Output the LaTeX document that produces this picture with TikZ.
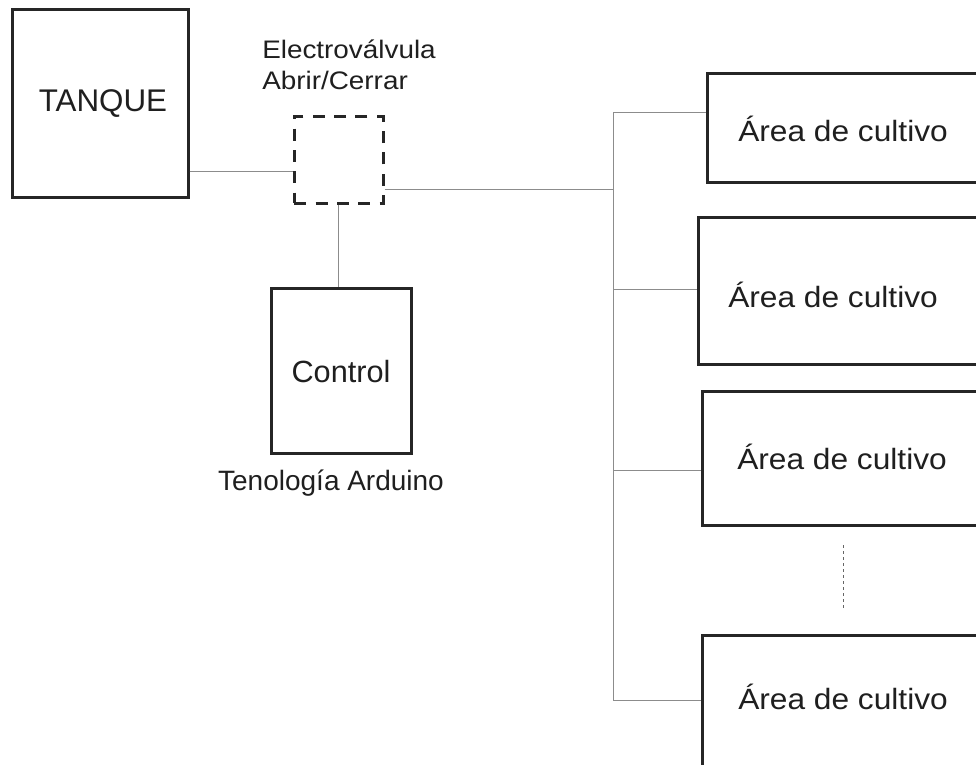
\documentclass[tikz,border=0pt]{standalone}
\usepackage{fontspec}
\setmainfont{Liberation Sans}
\begin{document}
\begin{tikzpicture}[x=0.75pt,y=-0.75pt,
  box/.style={draw=black!85,line width=2pt,anchor=north west,inner sep=0pt},
  conn/.style={draw=black!45,line width=0.7pt},
  lbl/.style={inner sep=0pt,text=black!88}]
\useasboundingbox (0,0) rectangle (976,765);
\clip (0,0) rectangle (976,765);
\fill[white] (0,0) rectangle (976,765);
% boxes
\node[box,minimum width=132pt,minimum height=141pt] (tank) at (11,8) {};
\node[box,dashed,dash pattern=on 9pt off 7pt,minimum width=66.75pt,minimum height=65.25pt] (valve) at (293,115) {};
\node[box,minimum width=105pt,minimum height=123.75pt] (ctrl) at (270,287) {};
\node[box,minimum width=213pt,minimum height=81.75pt] (a1) at (706,72) {};
\node[box,minimum width=219.75pt,minimum height=110.25pt] (a2) at (697,216) {};
\node[box,minimum width=216.75pt,minimum height=100.5pt] (a3) at (701,390) {};
\node[box,minimum width=216.75pt,minimum height=117pt] (a4) at (701,634) {};
% texts
\node[lbl,anchor=base] (tanqueT) at (103,111) {\fontsize{23.5pt}{26pt}\selectfont TANQUE};
\node[lbl,anchor=base west] (ev1) at (262,58) {\scalebox{1.1}[1]{\fontsize{19pt}{22pt}\selectfont Electroválvula}};
\node[lbl,anchor=base west] (ev2) at (262,89) {\scalebox{1.1}[1]{\fontsize{19pt}{22pt}\selectfont Abrir/Cerrar}};
\node[lbl,anchor=base] (ctrlT) at (341,382) {\fontsize{23pt}{26pt}\selectfont Control};
\node[lbl,anchor=base] (ard) at (331,490) {\fontsize{21pt}{24pt}\selectfont Tenología Arduino};
\node[lbl,anchor=base west] (t1) at (738,141) {\scalebox{1.08}[1]{\fontsize{22pt}{25pt}\selectfont Área de cultivo}};
\node[lbl,anchor=base west] (t2) at (728,307) {\scalebox{1.08}[1]{\fontsize{22pt}{25pt}\selectfont Área de cultivo}};
\node[lbl,anchor=base west] (t3) at (737,469) {\scalebox{1.08}[1]{\fontsize{22pt}{25pt}\selectfont Área de cultivo}};
\node[lbl,anchor=base west] (t4) at (738,709) {\scalebox{1.08}[1]{\fontsize{22pt}{25pt}\selectfont Área de cultivo}};
% bus coordinates
\coordinate (bt) at (613,112);
\coordinate (b2) at (613,289);
\coordinate (b3) at (613,470);
\coordinate (bb) at (613,700);
\coordinate (bv) at (613,189);
\coordinate (d1) at (843,545);
\coordinate (d2) at (843,608);
% connectors
\draw[conn] (tank.east |- 0,171) -- (valve.west |- 0,171);
\draw[conn] (valve.east |- bv) -- (bv);
\draw[conn] (valve.south -| 338,0) -- (ctrl.north -| 338,0);
\draw[conn] (bt) -- (bb);
\draw[conn] (bt) -- (a1.west |- bt);
\draw[conn] (b2) -- (a2.west |- b2);
\draw[conn] (b3) -- (a3.west |- b3);
\draw[conn] (bb) -- (a4.west |- bb);
\draw[black!60,line width=0.6pt,dash pattern=on 2.5pt off 2pt] (d1) -- (d2);
\end{tikzpicture}
\end{document}
